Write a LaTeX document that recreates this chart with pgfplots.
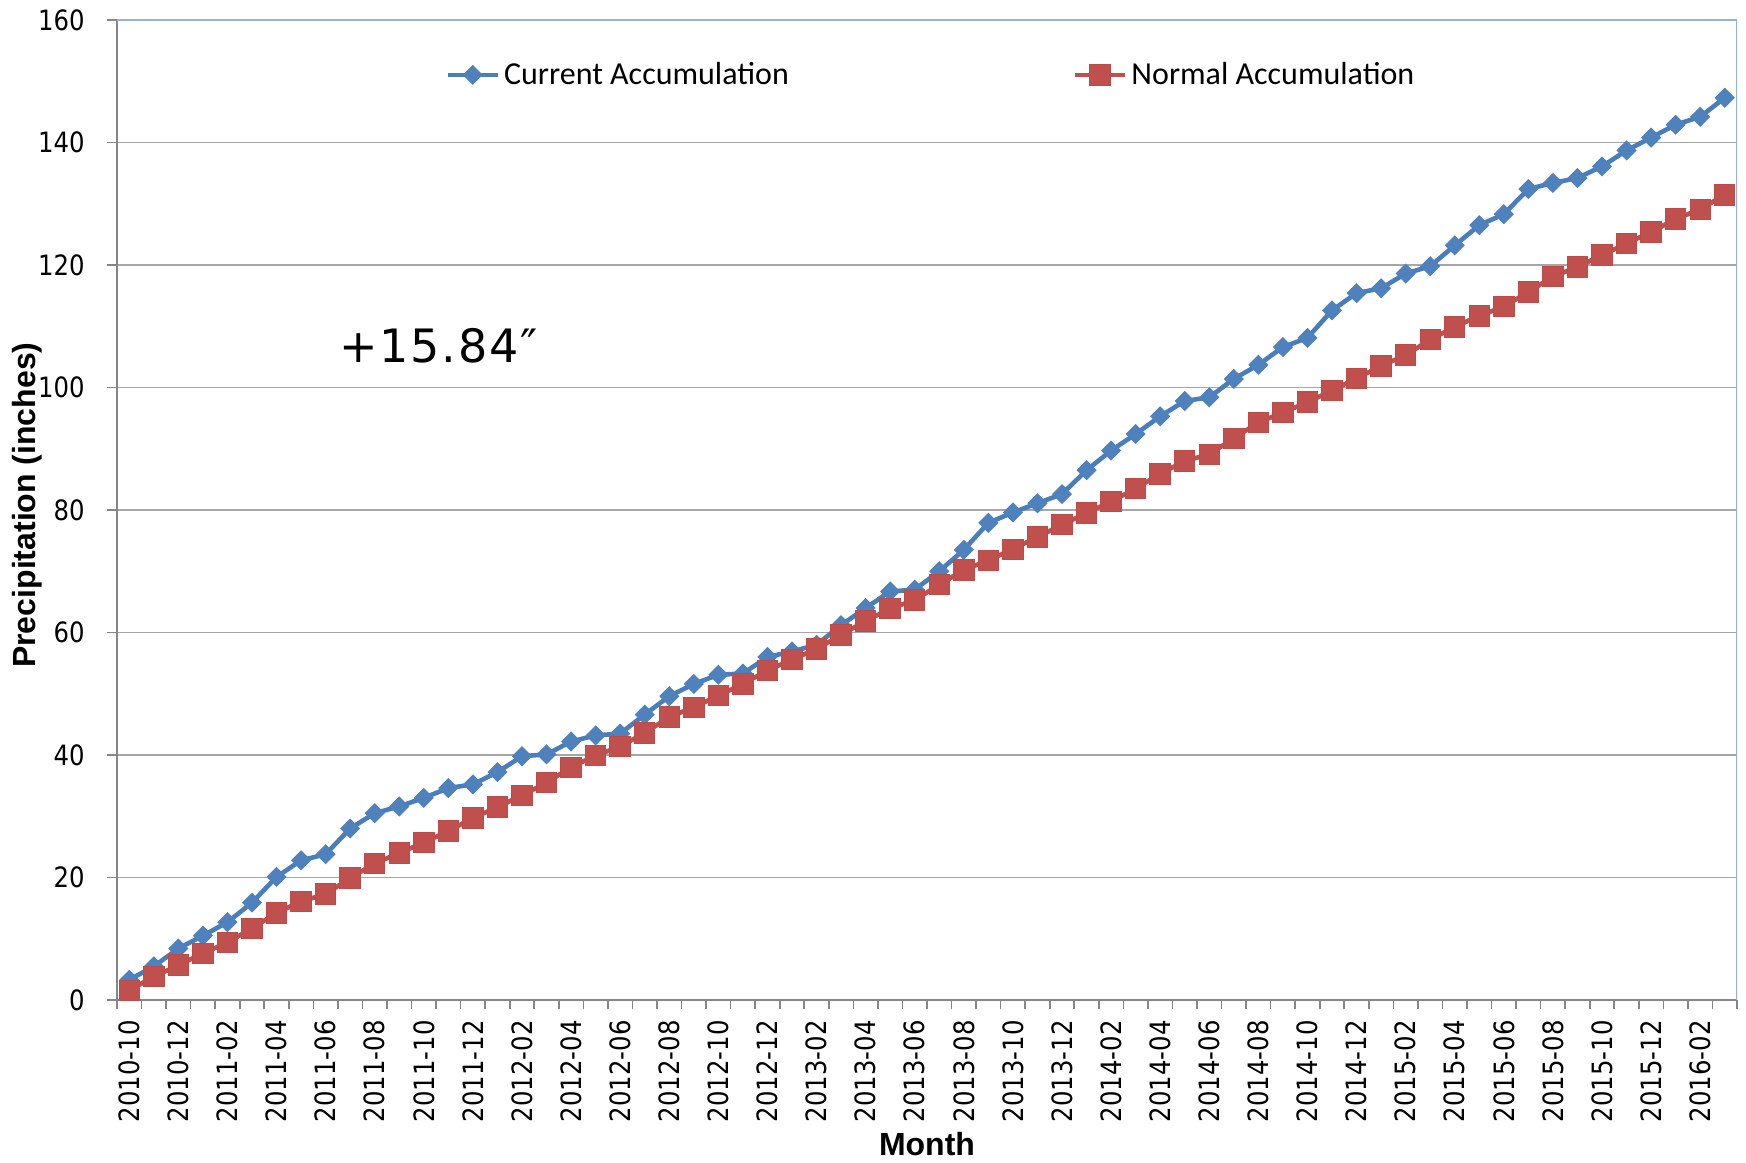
\documentclass[border=0pt]{standalone}
\usepackage{pgfplots}
\usepackage{pgfplotstable}
\pgfplotsset{compat=1.18}
\usepackage{fontspec}
\setmainfont{Liberation Sans}
\newfontfamily\tickfont[FakeStretch=0.87]{DejaVu Sans}
\newfontfamily\legfont{Carlito}
\newfontfamily\annfont[LetterSpace=4]{DejaVu Sans}

\definecolor{curblue}{HTML}{4A7EBB}
\definecolor{curfill}{HTML}{4F81BD}
\definecolor{normred}{HTML}{C0504D}
\definecolor{normedge}{HTML}{BE4B48}
\definecolor{axisgray}{HTML}{868686}
\definecolor{gridgray}{HTML}{A6A6A6}
\definecolor{frameblue}{HTML}{95B3D7}

% monthly accumulation, 2010-10 (idx 0) to 2016-03 (idx 65)
\pgfplotstableread{
idx current normal
0  3.3   1.6
1  5.5   3.8
2  8.4   5.7
3  10.5  7.6
4  12.7  9.4
5  15.9  11.7
6  20.1  14.2
7  22.8  16.1
8  23.8  17.3
9  28.0  19.9
10 30.5  22.3
11 31.6  24.0
12 33.0  25.7
13 34.6  27.6
14 35.2  29.7
15 37.2  31.5
16 39.8  33.4
17 40.1  35.5
18 42.2  38.0
19 43.2  39.9
20 43.5  41.4
21 46.6  43.6
22 49.6  46.2
23 51.6  47.8
24 53.1  49.7
25 53.3  51.6
26 56.0  53.8
27 56.9  55.6
28 58.0  57.3
29 61.2  59.6
30 64.0  61.9
31 66.7  63.9
32 67.0  65.3
33 70.0  67.8
34 73.5  70.2
35 77.9  71.8
36 79.6  73.6
37 81.1  75.6
38 82.6  77.6
39 86.5  79.5
40 89.7  81.4
41 92.4  83.5
42 95.3  85.9
43 97.8  88.0
44 98.4  89.1
45 101.4 91.7
46 103.7 94.3
47 106.6 95.9
48 108.1 97.6
49 112.6 99.5
50 115.4 101.5
51 116.2 103.5
52 118.6 105.3
53 119.8 107.8
54 123.2 109.9
55 126.5 111.7
56 128.3 113.2
57 132.4 115.6
58 133.4 118.1
59 134.2 119.7
60 136.1 121.6
61 138.7 123.5
62 140.8 125.4
63 142.9 127.5
64 144.2 129.1
65 147.3 131.46
}\datatable

\begin{document}
\begin{tikzpicture}
\begin{axis}[
    width=810pt, height=490pt, scale only axis,
    xmin=-0.5, xmax=65.5,
    ymin=0, ymax=160,
    axis lines=left,
    axis line style={-, color=axisgray, line width=0.8pt},
    tick align=outside,
    major tick length=5pt,
    minor tick length=4.5pt,
    xtick={0,2,...,64},
    xticklabels={2010-10,2010-12,2011-02,2011-04,2011-06,2011-08,2011-10,2011-12,
        2012-02,2012-04,2012-06,2012-08,2012-10,2012-12,2013-02,2013-04,2013-06,
        2013-08,2013-10,2013-12,2014-02,2014-04,2014-06,2014-08,2014-10,2014-12,
        2015-02,2015-04,2015-06,2015-08,2015-10,2015-12,2016-02},
    minor xtick={-0.5,0.5,...,65.5},
    major x tick style={draw=none},
    minor x tick style={color=axisgray, line width=0.8pt},
    ytick={0,20,...,160},
    y tick style={color=axisgray, line width=0.8pt},
    ymajorgrids=true,
    grid style={color=gridgray, line width=0.8pt},
    /pgf/number format/assume math mode=true,
    ticklabel style={font=\tickfont\fontsize{14}{16}\selectfont},
    xticklabel style={rotate=90, anchor=east, inner sep=0pt, xshift=-5pt},
    yticklabel style={anchor=east, inner sep=0pt, xshift=-11pt},
    ylabel={Precipitation (inches)},
    ylabel style={font=\bfseries\fontsize{16}{18}\selectfont,
        at={(axis description cs:-0.0556,0.505)}, anchor=center},
    xlabel={Month},
    xlabel style={font=\bfseries\fontsize{16}{18}\selectfont,
        at={(axis description cs:0.5,0)}, anchor=base, yshift=-77.5pt},
    legend columns=2,
    legend style={draw=none, fill=none, inner sep=0pt,
        at={(rel axis cs:0.2025,0.944)}, anchor=west,
        font=\legfont\fontsize{16}{18}\selectfont,
        nodes={inner sep=2pt},
        /tikz/every odd column/.append style={column sep=0pt},
        /tikz/every even column/.append style={column sep=140pt}},
    legend image code/.code={
        \draw[mark repeat=2, mark phase=2, #1]
            plot coordinates {(0pt,0pt) (12.5pt,0pt) (25pt,0pt)};},
]
\coordinate (bl) at (rel axis cs:0,0);
\coordinate (tr) at (rel axis cs:1,1);
\draw[frameblue, line width=0.8pt] (rel axis cs:0,1) -- (rel axis cs:1,1) -- (rel axis cs:1,0);

\addplot[curblue, line width=2.3pt, mark=square*, mark size=3.3pt,
    mark options={rotate=45, fill=curfill, draw=curfill, line width=0.5pt}]
    table[x=idx, y=current] {\datatable};
\addlegendentry{Current Accumulation}

\addplot[normred, line width=2.3pt, mark=square*, mark size=5.1pt,
    mark options={fill=normred, draw=normedge, line width=0.5pt}]
    table[x=idx, y=normal] {\datatable};
\addlegendentry{Normal Accumulation}

\node[anchor=base west, font=\annfont\fontsize{23}{23}\selectfont]
    at (axis cs:8.26,104.0) {+15.84″};
\end{axis}
\path (bl) ++(-58.5pt,-81pt) coordinate (bbA);
\path (tr) ++(4.5pt,10pt) coordinate (bbB);
\pgfresetboundingbox
\path[use as bounding box] (bbA) rectangle (bbB);
\end{tikzpicture}
\end{document}
